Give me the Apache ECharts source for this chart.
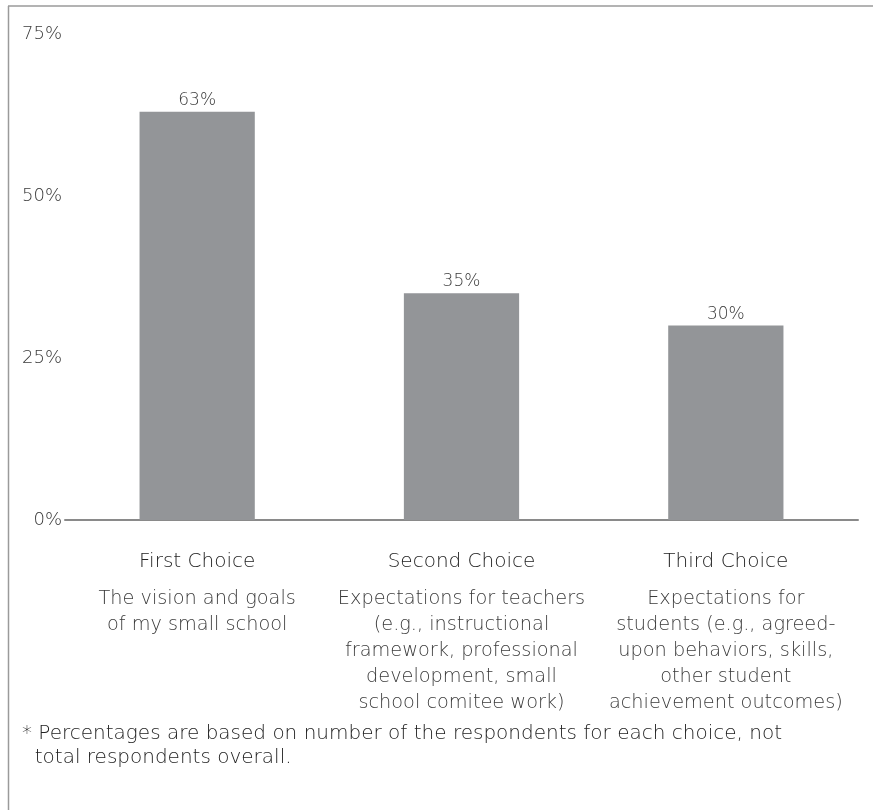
<!DOCTYPE html>
<html>
<head>
<meta charset="utf-8">
<style>
  html, body { margin: 0; padding: 0; background: #ffffff; }
  #chart { width: 873px; height: 810px; }
</style>
<script src="https://cdn.jsdelivr.net/npm/echarts@6/dist/echarts.min.js"></script>
</head>
<body>
<div id="chart"></div>
<script>
// Ranked priorities: share of respondents per choice
const choiceTitles = ['First Choice', 'Second Choice', 'Third Choice'];
const choiceDescriptions = [
  'The vision and goals\nof my small school',
  'Expectations for teachers\n(e.g., instructional\nframework, professional\ndevelopment, small\nschool comitee work)',
  'Expectations for\nstudents (e.g., agreed-\nupon behaviors, skills,\nother student\nachievement outcomes)'
];
const percentValues = [63, 35, 30];
const yTicks = [0, 25, 50, 75];
const footnote = '* Percentages are based on number of the respondents for each choice, not\n  total respondents overall.';

const FONT = '"DejaVu Sans", sans-serif';
const W = 200;
const chart = echarts.init(document.getElementById('chart'));

chart.setOption({
  animation: false,
  backgroundColor: '#ffffff',
  textStyle: { fontFamily: FONT },
  grid: { left: 65, right: 15, top: 34, bottom: 290, containLabel: false },
  xAxis: {
    type: 'category',
    data: choiceTitles,
    axisLine: { show: true, lineStyle: { color: '#8a8a8a', width: 2 } },
    axisTick: { show: false },
    axisLabel: {
      margin: 18,
      interval: 0,
      formatter: function (value, idx) {
        const desc = choiceDescriptions[idx].split('\n').map(l => '{s|' + l + '}').join('\n');
        return '{t|' + value + '}\n' + desc;
      },
      rich: {
        t: { fontFamily: FONT, fontSize: 20, color: '#222222', lineHeight: 48, fontWeight: W },
        s: { fontFamily: FONT, fontSize: 19.3, color: '#3a3a3a', lineHeight: 26, fontWeight: W }
      }
    }
  },
  yAxis: {
    type: 'value',
    min: yTicks[0],
    max: yTicks[yTicks.length - 1],
    interval: 25,
    axisLine: { show: false },
    axisTick: { show: false },
    splitLine: { show: false },
    axisLabel: {
      margin: 3,
      formatter: '{value}%',
      fontFamily: FONT,
      fontSize: 18,
      fontWeight: W,
      color: '#3a3a3a'
    }
  },
  series: [{
    type: 'bar',
    data: percentValues,
    barWidth: '43.6%',
    itemStyle: { color: '#939598' },
    label: {
      show: true,
      position: 'top',
      distance: 3,
      formatter: '{c}%',
      fontFamily: FONT,
      fontSize: 17,
      fontWeight: W,
      color: '#3a3a3a'
    }
  }],
  graphic: [
    // frame: top and left rules
    { type: 'line', shape: { x1: 8, y1: 6, x2: 873, y2: 6 }, style: { stroke: '#9a9a9a', lineWidth: 1.5 }, silent: true },
    { type: 'line', shape: { x1: 8.5, y1: 6, x2: 8.5, y2: 810 }, style: { stroke: '#9a9a9a', lineWidth: 1.5 }, silent: true },
    {
      type: 'text',
      left: 22,
      top: 722,
      style: {
        text: footnote,
        fontFamily: FONT,
        fontSize: 20,
        fontWeight: W,
        fill: '#222222',
        lineHeight: 24
      }
    }
  ]
});
</script>
</body>
</html>
